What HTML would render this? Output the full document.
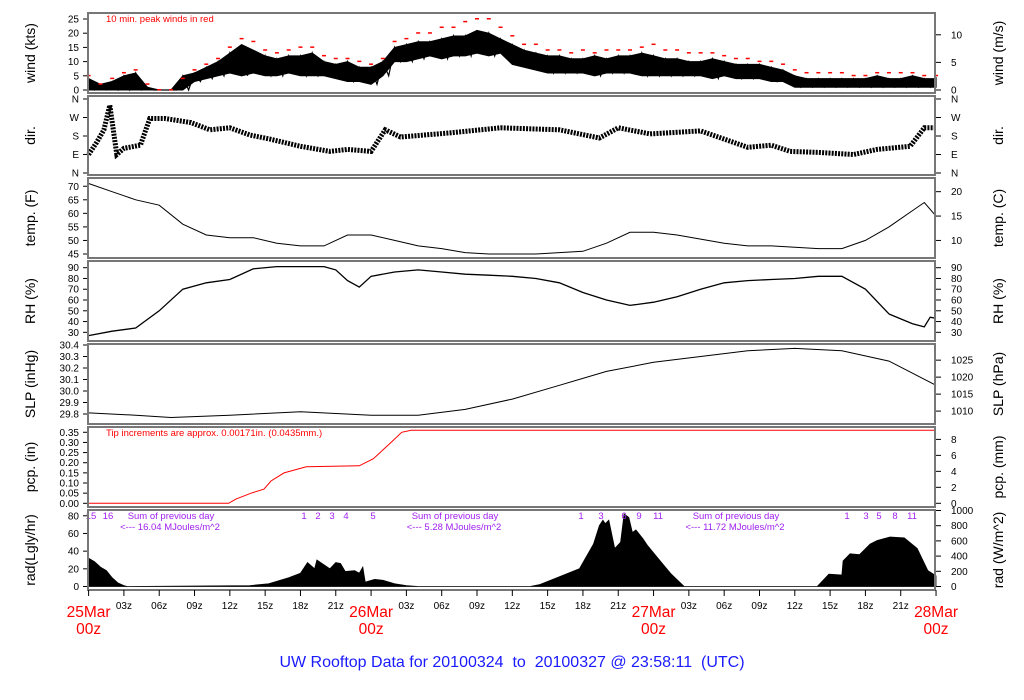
<!DOCTYPE html>
<html><head><meta charset="utf-8"><style>
body{margin:0;background:#fff;}
svg{display:block;font-family:"Liberation Sans",sans-serif;}
</style></head><body>
<svg id="chart" width="1024" height="700" viewBox="0 0 1024 700" xmlns="http://www.w3.org/2000/svg"></svg>
<script>
// ---- data (hours since 25Mar 00z) ----
const windHours=[0,1,2,3,4,5,6,7,8,9,10,11,12,13,14,15,16,17,18,19,20,21,22,23,24,25,26,27,28,29,30,31,32,33,34,35,36,37,38,39,40,41,42,43,44,45,46,47,48,49,50,51,52,53,54,55,56,57,58,59,60,61,62,63,64,65,66,67,68,69,70,71,72];
const windLo=[0,0,0,0,0,0,0,0,0,3,4,5,6,5,6,5,5,6,5,5,5,4,3,3,2,5,10,10,11,12,11,12,12,13,12,13,9,8,7,6,6,6,6,5,6,6,6,5,5,5,5,5,5,4,5,4,4,4,3,3,1,1,1,1,1,1,1,1,1,1,1,1,1];
const windHi=[4,2,3,5,6,1,0,0,5,6,8,10,13,16,14,12,11,12,12,13,10,9,10,8,8,10,15,16,17,17,18,19,19,21,20,18,16,14,13,12,12,11,11,12,11,12,12,13,12,11,11,10,10,11,10,9,9,9,8,7,5,4,4,4,4,4,4,5,4,4,5,4,4];
const windPeak=[5,2,4,6,7,2,0,0,4,7,9,11,15,18,17,14,13,14,15,15,12,11,11,10,9,11,17,18,20,20,22,22,24,25,25,22,19,16,16,14,14,13,14,13,14,14,14,15,16,14,14,13,13,13,12,11,11,10,10,9,7,6,6,6,6,5,5,6,6,6,6,5,5];
const dirHours=[0,0.7,1.3,1.8,2.4,3,4.4,5.2,6.5,8.7,10.3,12,13.7,15.4,18,20.5,22,24,25.2,26.5,30.7,35,40,43.4,45,47.7,52,56,58,59.6,62,65,67,69.8,71,72];
const dirDeg=[90,150,210,330,90,120,135,265,265,245,210,220,185,165,130,105,115,105,210,175,195,220,210,170,220,190,205,125,135,105,100,90,115,130,220,220];
const tempHours=[0,2,4,6,8,10,12,14,16,18,20,22,24,26,28,30,32,34,36,38,40,42,44,46,48,50,52,54,56,58,60,62,64,66,68,70,71,72];
const tempF=[71,68,65,63,56,52,51,51,49,48,48,52,52,50,48,47,45.5,45,45,45,45.5,46,49,53,53,52,50.5,49,48,48,47.5,47,47,50,55,61,64,59];
const rhHours=[0,2,4,6,8,10,12,14,16,18,20,21,22,23,24,26,28,30,32,34,36,38,40,42,44,46,48,50,52,54,56,58,60,62,64,66,68,70,71,71.5,72];
const rhPct=[27,31,34,50,70,76,79,89,91,91,91,88,78,72,82,86,88,86,84,83,82,80,76,67,60,55,58,63,70,76,78,79,80,82,82,70,47,38,35,44,43];
const slpHours=[0,4,7,12,18,24,28,32,36,40,44,48,52,56,60,64,68,72];
const slpIn=[29.81,29.79,29.77,29.79,29.82,29.79,29.79,29.84,29.93,30.05,30.17,30.25,30.30,30.35,30.37,30.35,30.26,30.05];
const pcpHours=[0,11.9,12.5,13.8,14.9,15.5,16.6,18.5,23,24.2,25.7,26.6,27.4,72];
const pcpIn=[0,0,0.02,0.05,0.07,0.11,0.15,0.18,0.185,0.22,0.30,0.35,0.36,0.36];
const radHours=[0,0.5,1,1.5,2,2.5,3,3.3, 13.7,15.3,17,18,18.6,19.2,19.4,20.5,21,21.4,21.8,22.6,23,23.3,23.5,24.3,25,26,27,28,
 37.5,38.3,40,41.7,42.9,43.4,43.7,43.9,44.2,44.7,45.2,45.5,45.9,46.2,46.5,47.1,47.5,48.5,49.5,50.6,
 61.9,62.9,64,64.1,64.7,65.5,66.4,67,68.1,69.3,70.4,71.3,72];
const radVal=[32,28,22,18,10,4,1,0, 1,3,10,15,27,20,30,20,27,26,17,18,15,22,5,8,7,3,1,0,
 0,2,11,20,48,69,75,71,75,43,50,82,78,61,64,54,46,30,14,0,
 0,14,13,29,37,36,48,52,56,55,43,18,12];
const dayLabels=["25Mar","26Mar","27Mar","28Mar"];
const hourLabels=["03z","06z","09z","12z","15z","18z","21z"];

// ---- layout ----
const X0=88.6, PXH=11.77, XR=935;
const xs=h=>X0+h*PXH;
const svg=document.getElementById('chart');
const NS='http://www.w3.org/2000/svg';
function mk(tag,attrs,parent){const e=document.createElementNS(NS,tag);for(const k in attrs)e.setAttribute(k,attrs[k]);(parent||svg).appendChild(e);return e;}
function txt(s,x,y,size,anchor,fill,parent,rot){const t=mk('text',{x:x,y:y,'font-size':size,'text-anchor':anchor||'start',fill:fill||'#000'},parent);if(rot)t.setAttribute('transform',`rotate(-90 ${x} ${y})`);t.textContent=s;return t;}
function line(pts){return pts.map((p,i)=>(i?'L':'M')+p[0].toFixed(1)+' '+p[1].toFixed(1)).join('');}

const panels=[
 {n:'wind',t:13,b:93,lt:'wind (kts)',rt:'wind (m/s)'},
 {n:'dir',t:96,b:175,lt:'dir.',rt:'dir.'},
 {n:'temp',t:178,b:258,lt:'temp. (F)',rt:'temp. (C)'},
 {n:'rh',t:261,b:341,lt:'RH (%)',rt:'RH (%)'},
 {n:'slp',t:344,b:424,lt:'SLP (inHg)',rt:'SLP (hPa)'},
 {n:'pcp',t:427,b:507,lt:'pcp. (in)',rt:'pcp. (mm)'},
 {n:'rad',t:510,b:590,lt:'rad(Lgly/hr)',rt:'rad (W/m^2)'}
];
const G={};
panels.forEach(p=>{
  const g=mk('g',{});
  
  
  G[p.n]=g;
  const lt=txt(p.lt,35,(p.t+p.b)/2,14,'middle','#000',g,true);
  
  
  const rt=txt(p.rt,1003,(p.t+p.b)/2,14,'middle','#000',g,true);
  
  
});
function ticks(g,vals,yf,labels,side){
  vals.forEach((v,i)=>{const y=yf(v);
    if(side==='l'){mk('line',{x1:83,x2:88,y1:y,y2:y,stroke:'#000','stroke-width':1},g);const t=txt(labels[i],79,y+3.5,10,'end','#000',g);}
    else{mk('line',{x1:935,x2:941,y1:y,y2:y,stroke:'#000','stroke-width':1},g);const t=txt(labels[i],951,y+3.5,10,'start','#000',g);}
  });
}
function frame(p){const r=mk('rect',{x:88,y:p.t,width:XR-88,height:p.b-p.t,fill:'none',stroke:'#777','stroke-width':2},G[p.n]);}

// wind
const yW=k=>90-k*2.84;
ticks(G.wind,[0,5,10,15,20,25],yW,['0','5','10','15','20','25'],'l');
ticks(G.wind,[0,5,10].map(m=>m*1.944),yW,['0','5','10'],'r');
{const up=windHours.map((h,i)=>[xs(h),yW(windHi[i])]);
 const dn=windHours.map((h,i)=>[xs(h),yW(windLo[i])]).reverse();
 const a=mk('path',{d:line(up.concat(dn))+'Z',fill:'#000',stroke:'#000','stroke-width':1},G.wind);
 
 let pts=[];windHours.forEach((h,i)=>{pts.push([xs(h),yW(windHi[i])]);pts.push([xs(Math.min(h+0.5,72)),yW(windLo[i])]);});
 const l=mk('path',{d:line(pts),fill:'none',stroke:'#000','stroke-width':1.2},G.wind);
 
 windHours.forEach((h,i)=>{const r=mk('rect',{x:xs(h)-2,y:yW(windPeak[i])-1,width:4,height:1.5,fill:'#f00'},G.wind);});
 const t=txt('10 min. peak winds in red',106,22,9.5,'start','#f00',G.wind);}
// dir
const yD=d=>173-d*0.2056;
ticks(G.dir,[0,90,180,270,360],yD,['N','E','S','W','N'],'l');
ticks(G.dir,[0,90,180,270,360],yD,['N','E','S','W','N'],'r');
{const p=mk('path',{d:line(dirHours.map((h,i)=>[xs(h),yD(dirDeg[i])])),fill:'none',stroke:'#000','stroke-width':5,'stroke-dasharray':'2 1.2'},G.dir);
 }
// temp
const yT=f=>254-(f-45)*2.71;
ticks(G.temp,[45,50,55,60,65,70],yT,['45','50','55','60','65','70'],'l');
ticks(G.temp,[10,15,20].map(c=>c*1.8+32),yT,['10','15','20'],'r');
{const p=mk('path',{d:line(tempHours.map((h,i)=>[xs(h),yT(tempF[i])])),fill:'none',stroke:'#000','stroke-width':1},G.temp);}
// rh
const yR=v=>267.7+(90-v)*1.077;
const rhT=[30,40,50,60,70,80,90];
ticks(G.rh,rhT,yR,rhT.map(String),'l');ticks(G.rh,rhT,yR,rhT.map(String),'r');
{const p=mk('path',{d:line(rhHours.map((h,i)=>[xs(h),yR(rhPct[i])])),fill:'none',stroke:'#000','stroke-width':1.3},G.rh);}
// slp
const yS=v=>414-(v-29.8)*115;
const slT=[29.8,29.9,30.0,30.1,30.2,30.3,30.4];
ticks(G.slp,slT,yS,slT.map(v=>v.toFixed(1)),'l');
ticks(G.slp,[1010,1015,1020,1025].map(h=>h/33.8639),yS,['1010','1015','1020','1025'],'r');
{const p=mk('path',{d:line(slpHours.map((h,i)=>[xs(h),yS(slpIn[i])])),fill:'none',stroke:'#000','stroke-width':1},G.slp);}
// pcp
const yP=v=>503.3-v*202.9;
const pcT=[0,0.05,0.1,0.15,0.2,0.25,0.3,0.35];
ticks(G.pcp,pcT,yP,pcT.map(v=>v.toFixed(2)),'l');
ticks(G.pcp,[0,2,4,6,8].map(m=>m/25.4),yP,['0','2','4','6','8'],'r');
{const p=mk('path',{d:line(pcpHours.map((h,i)=>[xs(h),yP(pcpIn[i])])),fill:'none',stroke:'#f00','stroke-width':1},G.pcp);
 const t=txt('Tip increments are approx. 0.00171in. (0.0435mm.)',106,436,9.5,'start','#f00',G.pcp);}
// rad
const yRd=v=>586.5-v*0.884;
ticks(G.rad,[0,20,40,60,80],yRd,['0','20','40','60','80'],'l');
ticks(G.rad,[0,200,400,600,800,1000].map(w=>w/11.63),yRd,['0','200','400','600','800','1000'],'r');
{const pts=radHours.map((h,i)=>[xs(h),yRd(radVal[i])]);
 const p=mk('path',{d:line([[pts[0][0],yRd(0)]].concat(pts,[[pts[pts.length-1][0],yRd(0)]]))+'Z',fill:'#000',stroke:'#000','stroke-width':0.8},G.rad);
 
 const P='#a020f0';
 const ann=[['15',91],['16',108],['1',304],['2',318],['3',332],['4',346],['5',373],['1',581],['3',601],['6',624],['9',639],['11',658],['1',847],['3',866],['5',879],['8',895],['11',912]];
 ann.forEach(a=>{const t=txt(a[0],a[1],519,9.5,'middle',P,G.rad);});
 [[171,'16.04'],[455,'5.28'],[736,'11.72']].forEach(s=>{
   const t1=txt('Sum of previous day',s[0],519,9.5,'middle',P,G.rad);
   const t2=txt('<--- '+s[1]+' MJoules/m^2',s[0]-1,530,9.5,'middle',P,G.rad);
 });}
panels.forEach(frame);
// x axis
{const g=mk('g',{});
 for(let h=0;h<=72;h+=3){const x=xs(h);mk('line',{x1:x,x2:x,y1:590,y2:596,stroke:'#000','stroke-width':1},g);
   if(h%24===0){const d=dayLabels[h/24];const t=txt(d,x,617,15.5,'middle','#f00',g);const t2=txt('00z',x,634,15.5,'middle','#f00',g);}
   else{const t=txt(hourLabels[(h%24)/3-1],x,609,10,'middle','#000',g);}}}
{const t=txt('UW Rooftop Data for 20100324  to  20100327 @ 23:58:11  (UTC)',512,667,16,'middle','#1a1aff');t.setAttribute('xml:space','preserve');t.style.whiteSpace='pre';}
</script>
</body></html>
